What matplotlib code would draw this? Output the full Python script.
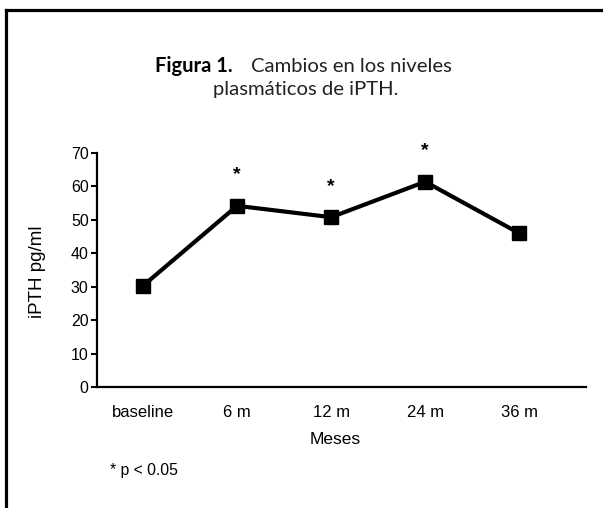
import matplotlib
matplotlib.use("Agg")
import matplotlib.pyplot as plt
from matplotlib.lines import Line2D

categories = ["baseline", "6 m", "12 m", "24 m", "36 m"]
ipth = [30.3, 54.2, 50.8, 61.4, 46.0]
significant = [False, True, True, True, False]
yticks = [0, 10, 20, 30, 40, 50, 60, 70]

W, H = 603, 508
fig = plt.figure(figsize=(W / 100, H / 100), dpi=100)

# frame border (top + left)
fig.add_artist(Line2D([5.5 / W, 1.0], [1 - 9.5 / H, 1 - 9.5 / H], color="black", lw=2.3,
                      solid_capstyle="projecting", transform=fig.transFigure))
fig.add_artist(Line2D([5.5 / W, 5.5 / W], [1 - 9.5 / H, 0.0], color="black", lw=2.3,
                      solid_capstyle="projecting", transform=fig.transFigure))

ax = fig.add_axes([97 / W, 1 - 387 / H, (586 - 97) / W, (387 - 153) / H])
x = list(range(len(categories)))
ax.plot(x, ipth, color="black", lw=3, marker="s", markersize=9.5, clip_on=False, zorder=3)
for xi, yi, s in zip(x, ipth, significant):
    if s:
        ax.annotate("*", (xi, yi), xytext=(0, 19), textcoords="offset points",
                    ha="center", va="baseline", fontsize=14, family="Liberation Sans",
                    weight="bold", annotation_clip=False)

ax.set_xlim(-0.49, 4.71)
ax.set_ylim(0, 70)
ax.set_yticks(yticks)
ax.set_yticklabels([str(v) for v in yticks], family="Liberation Sans", fontsize=11.5)
ax.set_xticks(x)
ax.set_xticklabels(categories, family="Liberation Sans", fontsize=12)
ax.tick_params(axis="x", length=0, pad=13)
ax.tick_params(axis="y", length=4, width=1.5, pad=2)
for side in ("top", "right"):
    ax.spines[side].set_visible(False)
for side in ("left", "bottom"):
    ax.spines[side].set_linewidth(1.6)
ax.set_xlabel("Meses", family="Liberation Sans", fontsize=12.5)
ax.xaxis.set_label_coords((335 - 97) / 489, (387 - 432) / 234)
ax.set_ylabel("iPTH pg/ml", family="Liberation Sans", fontsize=13.5)
ax.yaxis.set_label_coords((37 - 97) / 489, (387 - 272) / 234)
ax.yaxis.label.set_va("center")

fig.text(155 / W, 1 - 72 / H, "Figura 1.", fontsize=14.5, family="Lato",
         weight="bold", va="baseline", ha="left")
fig.text(452 / W, 1 - 72 / H, "Cambios en los niveles", fontsize=14.6, family="Lato",
         weight="normal", color="#222222", va="baseline", ha="right")
fig.text(305.5 / W, 1 - 95 / H, "plasmáticos de iPTH.", fontsize=14.6, family="Lato",
         weight="normal", color="#222222", va="baseline", ha="center")

fig.text(110 / W, 1 - 470 / H, "* p < 0.05", fontsize=11.3, family="Liberation Sans",
         va="center", ha="left")

fig.savefig("out.png", dpi=100)
